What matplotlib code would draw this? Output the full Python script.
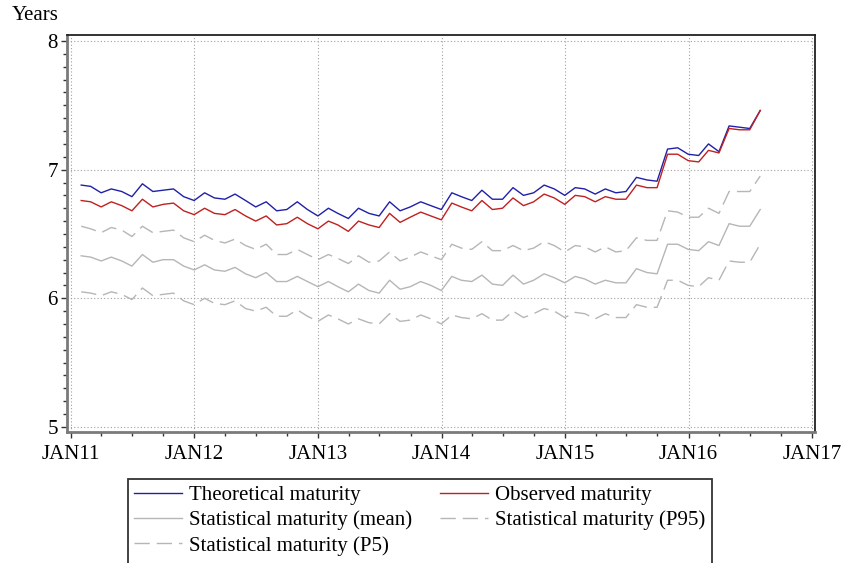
import numpy as np
import pandas as pd
import matplotlib
matplotlib.use("Agg")
import matplotlib.pyplot as plt
import matplotlib.dates as mdates
from matplotlib.patches import Rectangle
from matplotlib.ticker import MultipleLocator, FuncFormatter

# month-end dates, Jan 2011 .. Jul 2016
dates = pd.date_range("2011-01-31", periods=67, freq="ME")

theoretical = [6.88, 6.87, 6.82, 6.85, 6.83, 6.79, 6.89, 6.83, 6.84, 6.85, 6.79, 6.76,
               6.82, 6.78, 6.77, 6.81, 6.76, 6.71, 6.75, 6.68, 6.69, 6.75, 6.69, 6.64,
               6.70, 6.66, 6.62, 6.70, 6.66, 6.64, 6.75, 6.68, 6.71, 6.75, 6.72, 6.69,
               6.82, 6.79, 6.76, 6.84, 6.77, 6.77, 6.86, 6.80, 6.82, 6.88, 6.85, 6.80,
               6.86, 6.85, 6.81, 6.85, 6.82, 6.83, 6.94, 6.92, 6.91, 7.16, 7.17, 7.12,
               7.11, 7.20, 7.14, 7.34, 7.33, 7.32, 7.46]

observed = [6.76, 6.75, 6.71, 6.75, 6.72, 6.68, 6.77, 6.71, 6.73, 6.74, 6.68, 6.65,
            6.70, 6.66, 6.65, 6.69, 6.64, 6.60, 6.64, 6.57, 6.58, 6.63, 6.58, 6.54,
            6.60, 6.57, 6.52, 6.60, 6.57, 6.55, 6.66, 6.59, 6.63, 6.67, 6.64, 6.61,
            6.74, 6.71, 6.68, 6.76, 6.69, 6.70, 6.78, 6.72, 6.75, 6.81, 6.78, 6.73,
            6.80, 6.79, 6.75, 6.79, 6.77, 6.77, 6.88, 6.86, 6.86, 7.12, 7.12, 7.07,
            7.06, 7.15, 7.13, 7.32, 7.31, 7.31, 7.46]

stat_mean = [6.33, 6.32, 6.29, 6.32, 6.29, 6.25, 6.34, 6.28, 6.30, 6.30, 6.25, 6.22,
             6.26, 6.22, 6.21, 6.24, 6.19, 6.16, 6.20, 6.13, 6.13, 6.17, 6.13, 6.09,
             6.13, 6.09, 6.05, 6.11, 6.06, 6.04, 6.14, 6.07, 6.09, 6.13, 6.10, 6.06,
             6.17, 6.14, 6.13, 6.18, 6.11, 6.10, 6.18, 6.11, 6.14, 6.19, 6.16, 6.12,
             6.17, 6.15, 6.11, 6.14, 6.12, 6.12, 6.23, 6.20, 6.19, 6.42, 6.42, 6.38,
             6.37, 6.44, 6.41, 6.58, 6.56, 6.56, 6.69]

stat_p95 = [6.56, 6.54, 6.51, 6.55, 6.53, 6.48, 6.56, 6.51, 6.52, 6.53, 6.47, 6.44,
            6.49, 6.45, 6.43, 6.46, 6.41, 6.38, 6.42, 6.34, 6.34, 6.38, 6.34, 6.30,
            6.34, 6.31, 6.27, 6.33, 6.28, 6.29, 6.36, 6.29, 6.32, 6.36, 6.33, 6.30,
            6.42, 6.39, 6.38, 6.44, 6.37, 6.37, 6.41, 6.37, 6.39, 6.44, 6.41, 6.36,
            6.41, 6.40, 6.36, 6.40, 6.36, 6.37, 6.47, 6.45, 6.45, 6.68, 6.67, 6.63,
            6.63, 6.70, 6.66, 6.83, 6.83, 6.83, 6.95]

stat_p5 = [6.05, 6.04, 6.02, 6.05, 6.03, 5.99, 6.08, 6.02, 6.03, 6.04, 5.98, 5.95,
           6.00, 5.96, 5.95, 5.98, 5.92, 5.90, 5.93, 5.86, 5.86, 5.91, 5.86, 5.82,
           5.87, 5.84, 5.80, 5.84, 5.81, 5.80, 5.88, 5.82, 5.83, 5.87, 5.84, 5.80,
           5.87, 5.85, 5.84, 5.88, 5.83, 5.83, 5.90, 5.85, 5.88, 5.92, 5.90, 5.85,
           5.89, 5.88, 5.84, 5.88, 5.85, 5.85, 5.95, 5.93, 5.93, 6.14, 6.14, 6.10,
           6.09, 6.16, 6.14, 6.29, 6.28, 6.28, 6.42]

plt.rcParams["font.family"] = ["Liberation Serif", "DejaVu Serif"]

fig = plt.figure(figsize=(8.43, 5.63), dpi=100)
ax = fig.add_axes([67 / 843, 1 - 432 / 563, (815 - 67) / 843, (432 - 35) / 563])

grey = "#b6b6b6"
l_th, = ax.plot(dates, theoretical, color="#2020a8", lw=1.0, label="Theoretical maturity")
l_ob, = ax.plot(dates, observed, color="#c02020", lw=1.0, label="Observed maturity")
l_mn, = ax.plot(dates, stat_mean, color=grey, lw=1.0, label="Statistical maturity (mean)")
l_95, = ax.plot(dates, stat_p95, color=grey, lw=1.0, dashes=(11, 5), label="Statistical maturity (P95)")
l_05, = ax.plot(dates, stat_p5, color=grey, lw=1.0, dashes=(11, 5), label="Statistical maturity (P5)")

ax.set_xlim(pd.Timestamp("2010-12-20"), pd.Timestamp("2017-01-09"))
ax.set_ylim(4.96, 8.047)

ax.xaxis.set_major_locator(mdates.YearLocator())
ax.xaxis.set_minor_locator(mdates.MonthLocator(bymonth=[4, 7, 10]))
ax.xaxis.set_major_formatter(FuncFormatter(lambda v, p: mdates.num2date(v).strftime("%b%y").upper()))
ax.yaxis.set_major_locator(MultipleLocator(1))
ax.yaxis.set_minor_locator(MultipleLocator(0.1))

ax.grid(True, which="major", color="#a0a0a0", lw=0.8, ls=(0, (1, 2)))
ax.tick_params(axis="both", which="major", labelsize=15, direction="out", length=4.5, width=1, color="#333333")
ax.tick_params(axis="both", which="minor", direction="out", length=3, width=1, color="#333333")
ax.tick_params(axis="x", which="major", pad=5)
ax.tick_params(axis="y", which="major", pad=2)

for s in ["left", "bottom"]:
    ax.spines[s].set_color("#7a7a7a")
    ax.spines[s].set_linewidth(2)
for s in ["top", "right"]:
    ax.spines[s].set_color("#222222")
    ax.spines[s].set_linewidth(1.3)

fig.text(12 / 843, 1 - 16 / 563, "Years", fontsize=15, va="center", ha="left")

# column-major fill -> rows: (theoretical, observed), (mean, p95), (p5)
handles = [l_th, l_mn, l_05, l_ob, l_95]
leg = ax.legend(handles=handles, loc="upper left", bbox_to_anchor=(128 / 843, 1 - 479 / 563),
                bbox_transform=fig.transFigure, ncol=2, fontsize=15, frameon=False,
                handlelength=2.3, handletextpad=0.35, columnspacing=1.3,
                labelspacing=0.27, borderaxespad=0, borderpad=0.3)

# legend box runs off the bottom of the image, as in the original export
frame = Rectangle((128 / 843, -0.2), (712 - 128) / 843, 0.2 + (1 - 479 / 563),
                  transform=fig.transFigure, fill=False, edgecolor="#333333", lw=1.3)
fig.patches.append(frame)

fig.savefig("out.png", dpi=100)
